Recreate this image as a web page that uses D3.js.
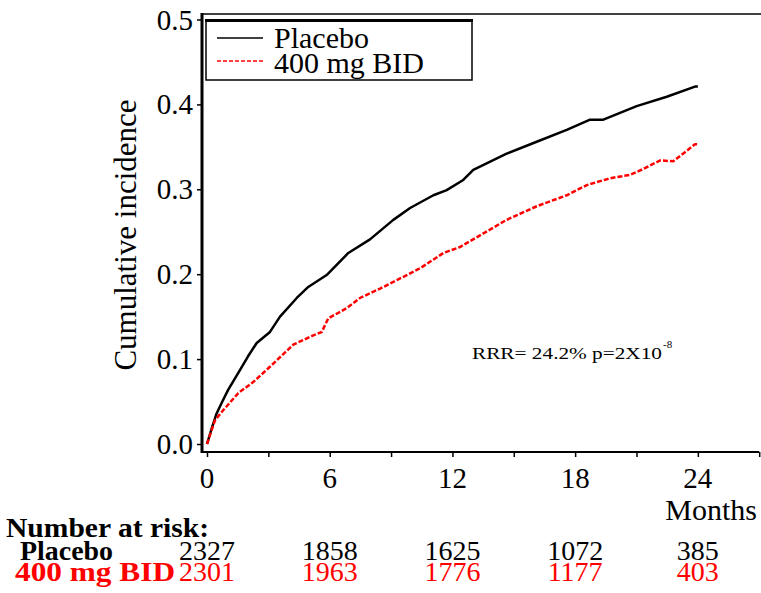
<!DOCTYPE html>
<html>
<head>
<meta charset="utf-8">
<script src="https://cdn.jsdelivr.net/npm/d3@7"></script>
<style>
  body { margin: 0; background: #fff; }
  svg text { font-family: "Liberation Serif", "DejaVu Serif", "Times New Roman", serif !important; }
</style>
</head>
<body>
<div id="chart"></div>
<script>
// Cumulative incidence (months, proportion)
const placeboMonths = [0, 0.25, 0.47, 0.75, 1.04, 1.61, 2.0, 2.43, 3.08, 3.57, 4.39, 4.95, 5.85, 6.91, 7.97, 9.11, 9.93, 11.07, 11.72, 12.53, 13.02, 14.65, 16.12, 17.59, 18.73, 19.38, 21.01, 22.48, 23.86, 24.0];
const placeboValues = [0, 0.020, 0.036, 0.050, 0.064, 0.087, 0.103, 0.119, 0.132, 0.150, 0.172, 0.185, 0.199, 0.225, 0.241, 0.264, 0.278, 0.293, 0.299, 0.311, 0.323, 0.342, 0.356, 0.370, 0.382, 0.382, 0.398, 0.409, 0.421, 0.421];
const bidMonths = [0, 0.39, 0.80, 1.53, 2.26, 3.08, 4.22, 5.20, 5.61, 5.93, 6.83, 7.48, 8.46, 9.28, 10.42, 11.56, 12.37, 13.51, 14.65, 16.12, 17.59, 18.57, 19.71, 20.68, 21.34, 22.15, 22.80, 23.86, 24.0];
const bidValues = [0, 0.028, 0.040, 0.060, 0.073, 0.091, 0.117, 0.128, 0.132, 0.148, 0.160, 0.172, 0.183, 0.193, 0.207, 0.225, 0.232, 0.248, 0.264, 0.280, 0.293, 0.305, 0.313, 0.317, 0.324, 0.334, 0.333, 0.353, 0.353];

// Axis ticks and number-at-risk table
const xTicks = [0, 3, 6, 9, 12, 15, 18, 21, 24, 27];
const xLabels = [0, 6, 12, 18, 24];
const yTicks = [0, 0.1, 0.2, 0.3, 0.4, 0.5];
const riskMonths = [0, 6, 12, 18, 24];
const placeboRisk = [2327, 1858, 1625, 1072, 385];
const bidRisk = [2301, 1963, 1776, 1177, 403];

const W = 761, H = 593;
const axisX = 202, axisY = 452;
const serif = "'Liberation Serif', 'DejaVu Serif', serif";

const svg = d3.select("#chart")
  .append("svg")
  .attr("width", W)
  .attr("height", H)
  .attr("font-family", serif);

const x = d3.scaleLinear().domain([0, 27]).range([207, 759.2]);
const y = d3.scaleLinear().domain([0, 0.5]).range([444, 19.5]);

// Y axis
const yAxis = svg.append("g")
  .attr("transform", `translate(${axisX},0)`)
  .call(d3.axisLeft(y).tickValues(yTicks).tickSize(5).tickPadding(4).tickFormat(d3.format(".1f")));
yAxis.attr("font-family", serif);
yAxis.select(".domain").remove();
yAxis.selectAll("line").attr("stroke", "#000").attr("stroke-width", 1.5);
yAxis.selectAll("text")
  .attr("font-size", 29)
  .attr("fill", "#000")
  .attr("dy", "0.33em");

// X axis
const xAxis = svg.append("g")
  .attr("transform", `translate(0,${axisY})`)
  .call(d3.axisBottom(x).tickValues(xTicks).tickSize(5).tickFormat(""));
xAxis.select(".domain").remove();
xAxis.selectAll("line").attr("stroke", "#000").attr("stroke-width", 1.5);

svg.append("g")
  .selectAll("text")
  .data(xLabels)
  .join("text")
  .attr("x", d => x(d))
  .attr("y", 488)
  .attr("text-anchor", "middle")
  .attr("font-size", 29)
  .text(d => d);

// Frame lines
svg.append("line")
  .attr("x1", axisX).attr("x2", W)
  .attr("y1", 14).attr("y2", 14)
  .attr("stroke", "#000").attr("stroke-width", 1.5);
svg.append("line")
  .attr("x1", axisX).attr("x2", x(27))
  .attr("y1", axisY).attr("y2", axisY)
  .attr("stroke", "#000").attr("stroke-width", 2);
svg.append("line")
  .attr("x1", axisX).attr("x2", axisX)
  .attr("y1", 13).attr("y2", axisY + 1)
  .attr("stroke", "#000").attr("stroke-width", 3);

// Axis titles
svg.append("text")
  .attr("transform", "translate(136,235) rotate(-90)")
  .attr("text-anchor", "middle")
  .attr("font-size", 31)
  .text("Cumulative incidence");

svg.append("text")
  .attr("x", 757)
  .attr("y", 520)
  .attr("text-anchor", "end")
  .attr("font-size", 30)
  .text("Months");

// Curves
const line = d3.line()
  .x(d => x(d[0]))
  .y(d => y(d[1]));

svg.append("path")
  .datum(d3.zip(placeboMonths, placeboValues))
  .attr("fill", "none")
  .attr("stroke", "#000")
  .attr("stroke-width", 2.5)
  .attr("stroke-linejoin", "round")
  .attr("d", line);

svg.append("path")
  .datum(d3.zip(bidMonths, bidValues))
  .attr("fill", "none")
  .attr("stroke", "#ff0000")
  .attr("stroke-width", 2.5)
  .attr("stroke-dasharray", "5,2")
  .attr("d", line);

// Legend
const legend = svg.append("g");
legend.append("rect")
  .attr("x", 206).attr("y", 20)
  .attr("width", 266).attr("height", 60)
  .attr("fill", "#fff")
  .attr("stroke", "#000")
  .attr("stroke-width", 1.5);
legend.append("line")
  .attr("x1", 205).attr("x2", 473)
  .attr("y1", 20.5).attr("y2", 20.5)
  .attr("stroke", "#000").attr("stroke-width", 3);
legend.append("line")
  .attr("x1", 217).attr("x2", 263)
  .attr("y1", 38).attr("y2", 38)
  .attr("stroke", "#000").attr("stroke-width", 1.5);
legend.append("line")
  .attr("x1", 217).attr("x2", 263)
  .attr("y1", 61).attr("y2", 61)
  .attr("stroke", "#ff0000").attr("stroke-width", 1.5)
  .attr("stroke-dasharray", "4,2");
legend.append("text")
  .attr("x", 274).attr("y", 48)
  .attr("font-size", 30)
  .text("Placebo");
legend.append("text")
  .attr("x", 274).attr("y", 73)
  .attr("font-size", 30)
  .text("400 mg BID");

// Annotation
svg.append("text")
  .attr("x", 472).attr("y", 359)
  .attr("font-size", 17)
  .attr("textLength", 190)
  .attr("lengthAdjust", "spacingAndGlyphs")
  .text("RRR= 24.2% p=2X10");
svg.append("text")
  .attr("x", 663).attr("y", 348)
  .attr("font-size", 11)
  .text("-8");

// Number at risk table
svg.append("text")
  .attr("x", 6).attr("y", 537)
  .attr("font-size", 28)
  .attr("font-weight", "bold")
  .attr("textLength", 203)
  .attr("lengthAdjust", "spacingAndGlyphs")
  .text("Number at risk:");
svg.append("text")
  .attr("x", 20).attr("y", 560)
  .attr("font-size", 28)
  .attr("font-weight", "bold")
  .attr("textLength", 93)
  .attr("lengthAdjust", "spacingAndGlyphs")
  .text("Placebo");
svg.append("text")
  .attr("x", 15).attr("y", 581)
  .attr("font-size", 28)
  .attr("font-weight", "bold")
  .attr("fill", "#ff0000")
  .attr("textLength", 160)
  .attr("lengthAdjust", "spacingAndGlyphs")
  .text("400 mg BID");

svg.append("g")
  .selectAll("text")
  .data(d3.zip(riskMonths, placeboRisk))
  .join("text")
  .attr("x", d => x(d[0]))
  .attr("y", 560)
  .attr("text-anchor", "middle")
  .attr("font-size", 28)
  .text(d => d[1]);

svg.append("g")
  .selectAll("text")
  .data(d3.zip(riskMonths, bidRisk))
  .join("text")
  .attr("x", d => x(d[0]))
  .attr("y", 581)
  .attr("text-anchor", "middle")
  .attr("font-size", 28)
  .attr("fill", "#ff0000")
  .text(d => d[1]);
</script>
</body>
</html>
